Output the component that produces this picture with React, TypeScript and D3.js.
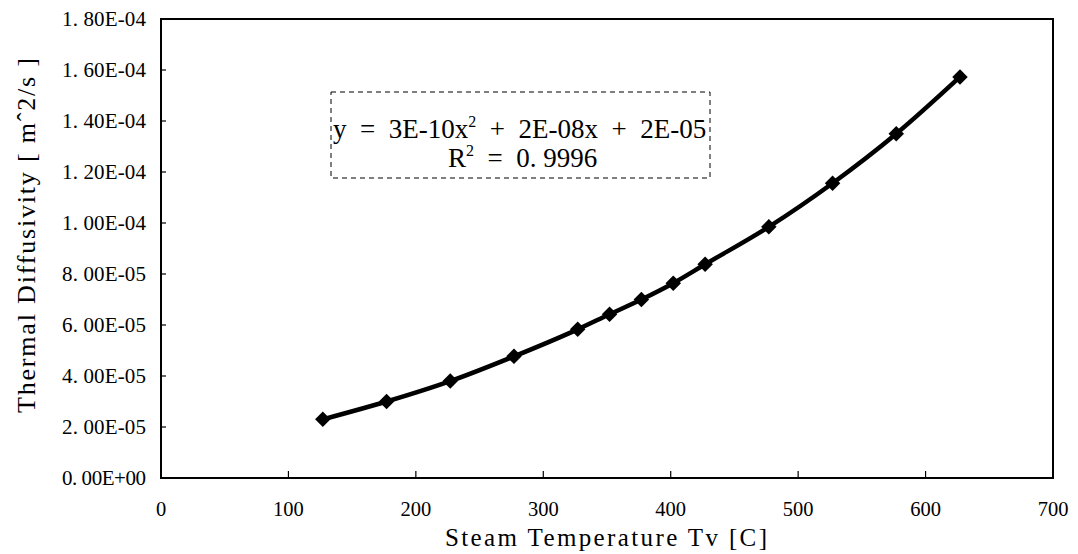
import React from "react";
import * as d3 from "d3";

const temps = [127, 177, 227, 277, 327, 352, 377, 402, 427, 477, 527, 577, 627];
const diffusivity = [2.3e-5, 3.0e-5, 3.8e-5, 4.77e-5, 5.83e-5, 6.42e-5, 7.0e-5, 7.64e-5, 8.38e-5, 9.85e-5, 1.156e-4, 1.35e-4, 1.573e-4];
const xTicks = [0, 100, 200, 300, 400, 500, 600, 700];
const yTicks = [0, 2e-5, 4e-5, 6e-5, 8e-5, 1e-4, 1.2e-4, 1.4e-4, 1.6e-4, 1.8e-4];
const yTickLabels = ["0. 00E+00", "2. 00E-05", "4. 00E-05", "6. 00E-05", "8. 00E-05", "1. 00E-04", "1. 20E-04", "1. 40E-04", "1. 60E-04", "1. 80E-04"];

const W = 1078, H = 554;
const L = 161, R = 1053, T = 19, B = 478;
const FONT = "'Liberation Serif', 'DejaVu Serif', serif";

export default function App() {
  const x = d3.scaleLinear().domain([0, 700]).range([L, R]);
  const y = d3.scaleLinear().domain([0, 1.8e-4]).range([B, T]);
  const pts = temps.map((t, i) => [x(t), y(diffusivity[i])] as [number, number]);
  const line = d3.line().curve(d3.curveMonotoneX)(pts) || "";
  const marker = d3.symbol().type(d3.symbolSquare).size(120)() || "";

  return (
    <svg width={W} height={H} style={{ position: "absolute", left: 0, top: 0, background: "#fff" }}>
      <rect x={0} y={0} width={W} height={H} fill="#fff" />
      <rect x={L} y={T} width={R - L} height={B - T} fill="none" stroke="#000" strokeWidth={2} />
      {yTicks.map((v, i) => (
        <g key={"y" + i}>
          <line x1={L} x2={L + 5} y1={y(v)} y2={y(v)} stroke="#000" strokeWidth={1.2} />
          <text x={146} y={y(v) + 7} textAnchor="end" fontFamily={FONT} fontSize={21} textLength={84} lengthAdjust="spacing" style={{ whiteSpace: "pre" }}>{yTickLabels[i]}</text>
        </g>
      ))}
      {xTicks.map((v, i) => (
        <g key={"x" + i}>
          <line x1={x(v)} x2={x(v)} y1={B} y2={B - 7} stroke="#000" strokeWidth={1.2} />
          <text x={x(v)} y={516} textAnchor="middle" fontFamily={FONT} fontSize={20.5}>{v}</text>
        </g>
      ))}
      <text x={445} y={546} fontFamily={FONT} fontSize={25} textLength={322} lengthAdjust="spacing" style={{ whiteSpace: "pre" }}>Steam Temperature Tv [C]</text>
      <text transform="translate(35,413) rotate(-90)" fontFamily={FONT} fontSize={26} textLength={355} lengthAdjust="spacing" style={{ whiteSpace: "pre" }}>Thermal Diffusivity [ mˆ2/s ]</text>
      <path d={line} fill="none" stroke="#000" strokeWidth={4.5} strokeLinejoin="round" />
      {pts.map((p, i) => (
        <path key={"m" + i} d={marker} transform={`translate(${p[0]},${p[1]}) rotate(45)`} fill="#000" />
      ))}
      <rect x={331} y={92} width={379} height={86} fill="#fff" stroke="#000" strokeWidth={1} strokeDasharray="5,4" />
      <text x={333} y={138} fontFamily={FONT} fontSize={27} style={{ whiteSpace: "pre" }}>
        <tspan>y  =  3E-10x</tspan><tspan dy={-11} fontSize={16}>2</tspan><tspan dy={11}>  +  2E-08x  +  2E-05</tspan>
      </text>
      <text x={448} y={167} fontFamily={FONT} fontSize={27} style={{ whiteSpace: "pre" }}>
        <tspan>R</tspan><tspan dy={-11} fontSize={16}>2</tspan><tspan dy={11}>  =  0. 9996</tspan>
      </text>
    </svg>
  );
}
